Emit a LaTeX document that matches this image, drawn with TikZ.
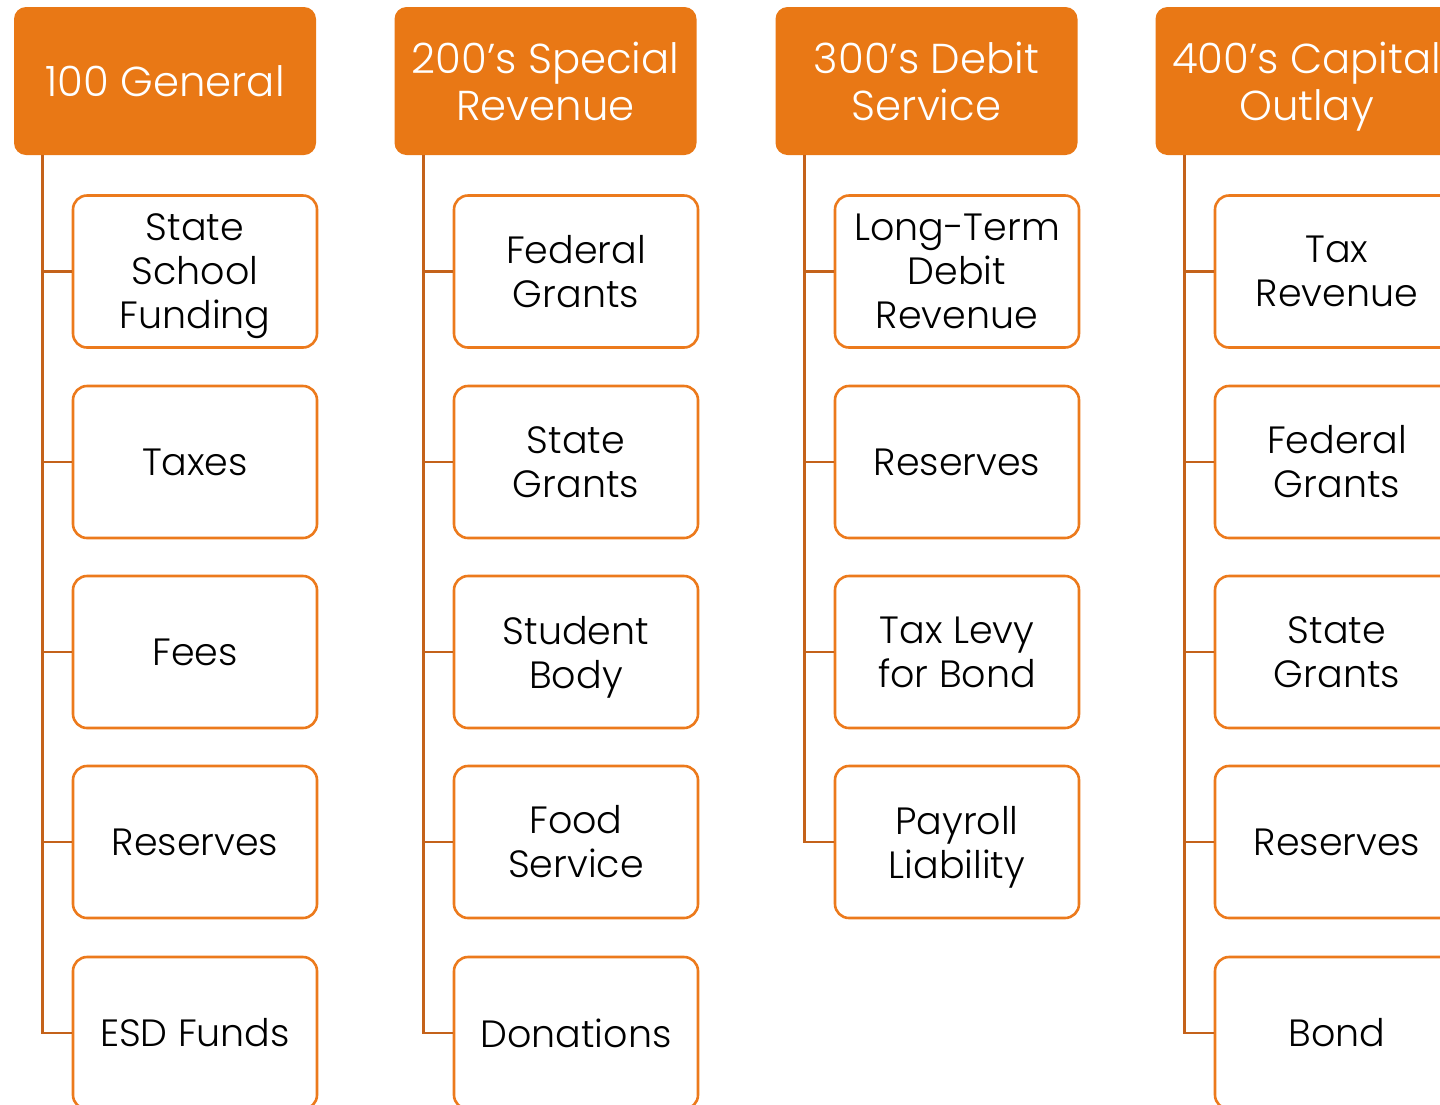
\documentclass[tikz,border=0pt]{standalone}
\usepackage{fontspec}
\setmainfont{Poppins Light}
\definecolor{hdrfill}{HTML}{E97815}
\definecolor{boxline}{HTML}{EC7A1C}
\definecolor{connline}{HTML}{C4621A}
\newcommand{\nodesc}[1]{\raisebox{0pt}[\height][0pt]{#1}}
\tikzset{
  hdr/.style={fill=hdrfill, draw=none, rounded corners=12pt, minimum width=302pt, minimum height=148pt,
    text=white, align=center, font=\fontsize{41.8}{47}\selectfont, inner sep=0pt},
  childbox/.style={fill=white, draw=boxline, line width=2.6pt, rounded corners=14pt, minimum width=244pt, minimum height=152pt,
    text=black, align=center, font=\fontsize{38}{44}\selectfont, inner sep=0pt},
  conn/.style={draw=connline, line width=2.8pt}
}
\begin{document}
\begin{tikzpicture}[x=1pt,y=-1pt]
\useasboundingbox (0,0) rectangle (1440,1104);
\clip (0,0) rectangle (1440,1104);
% headers
\node[hdr] (h1) at (165,81) {100 General};
\node[hdr] (h2) at (545.5,81) {200’s Special\\Revenue};
\node[hdr] (h3) at (926.5,81) {300’s Debit\\Service};
\node[hdr] (h4) at (1306.5,81) {400’s Capital\\\nodesc{Outlay}};
% column 1
\node[childbox] (c11) at (195,271.5) {State\\School\\\nodesc{Funding}};
\node[childbox] (c12) at (195,462) {Taxes};
\node[childbox] (c13) at (195,652) {Fees};
\node[childbox] (c14) at (195,842) {Reserves};
\node[childbox] (c15) at (195,1033) {ESD Funds};
% column 2
\node[childbox] (c21) at (576,271.5) {Federal\\Grants};
\node[childbox] (c22) at (576,462) {State\\Grants};
\node[childbox] (c23) at (576,652) {Student\\\nodesc{Body}};
\node[childbox] (c24) at (576,842) {Food\\Service};
\node[childbox] (c25) at (576,1033) {Donations};
% column 3
\node[childbox] (c31) at (957,271.5) {Long-Term\\Debit\\Revenue};
\node[childbox] (c32) at (957,462) {Reserves};
\node[childbox] (c33) at (957,652) {Tax Levy\\for Bond};
\node[childbox] (c34) at (957,842) {Payroll\\\nodesc{Liability}};
% column 4
\node[childbox] (c41) at (1337,271.5) {Tax\\Revenue};
\node[childbox] (c42) at (1337,462) {Federal\\Grants};
\node[childbox] (c43) at (1337,652) {State\\Grants};
\node[childbox] (c44) at (1337,842) {Reserves};
\node[childbox] (c45) at (1337,1033) {Bond};
% connectors
\foreach \h/\last/\n in {1/5/4, 2/5/4, 3/4/3, 4/5/4} {
  \draw[conn] ([xshift=29pt]h\h.south west) |- (c\h\last.west);
  \foreach \k in {1,...,\n} {
    \draw[conn] ([xshift=29pt]h\h.south west |- c\h\k.west) -- (c\h\k.west);
  }
}
\end{tikzpicture}
\end{document}
